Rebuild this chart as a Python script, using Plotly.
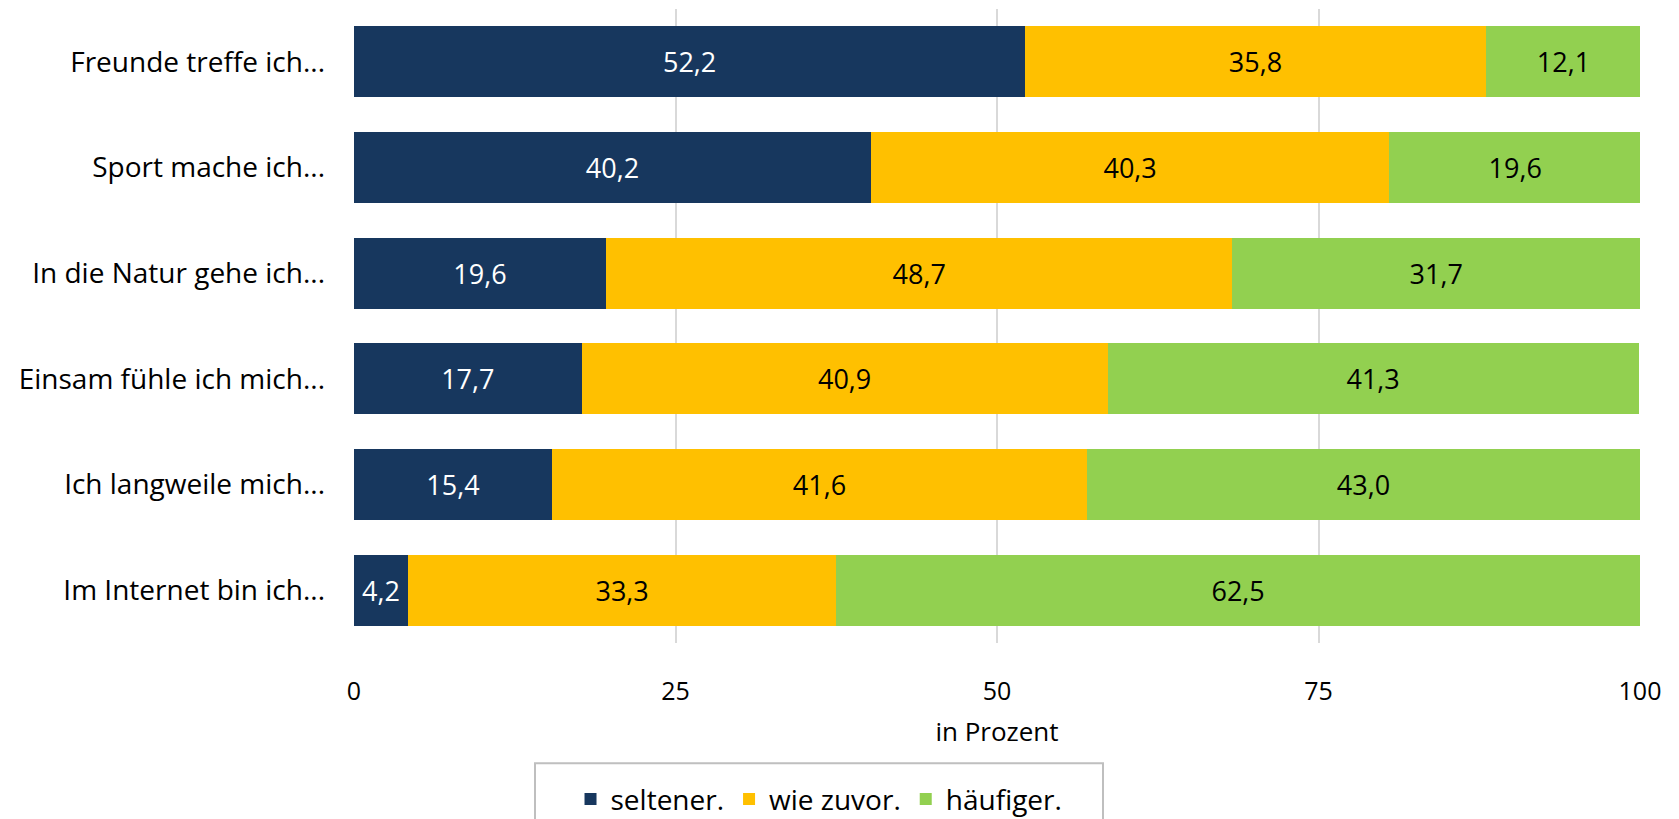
import plotly.graph_objects as go

categories = ["Freunde treffe ich...", "Sport mache ich...", "In die Natur gehe ich...",
              "Einsam fühle ich mich...", "Ich langweile mich...", "Im Internet bin ich..."]
seltener = [52.2, 40.2, 19.6, 17.7, 15.4, 4.2]
wie_zuvor = [35.8, 40.3, 48.7, 40.9, 41.6, 33.3]
haeufiger = [12.1, 19.6, 31.7, 41.3, 43.0, 62.5]
tick_vals = [0, 25, 50, 75, 100]

cats = categories[::-1]

def fmt(v):
    return f"{v:.1f}".replace(".", ",")

series = [
    ("seltener.", seltener, "#17375E", "white"),
    ("wie zuvor.", wie_zuvor, "#FFC000", "black"),
    ("häufiger.", haeufiger, "#92D050", "black"),
]

FONT = "Open Sans"
fig = go.Figure()
for name, vals, color, tcol in series:
    v = vals[::-1]
    fig.add_trace(go.Bar(
        y=cats, x=v, name=name, orientation="h",
        marker=dict(color=color, line=dict(width=0)),
        text=[fmt(x) for x in v], textposition="inside", insidetextanchor="middle",
        textangle=0, constraintext="none",
        textfont=dict(color=tcol, size=27, family=FONT),
        hoverinfo="skip",
    ))

fig.update_layout(
    barmode="stack", bargap=0.33,
    width=1679, height=819,
    paper_bgcolor="white", plot_bgcolor="white",
    margin=dict(l=346, r=47, t=1, b=184),
    font=dict(family=FONT, color="black", size=26),
    xaxis=dict(range=[0, 100], tickvals=tick_vals, showgrid=True, gridcolor="#D9D9D9",
               gridwidth=2, zeroline=False, showline=False, automargin=False,
               ticklabelstandoff=31, tickfont=dict(size=25, family=FONT),
               title=dict(text="in Prozent", font=dict(size=26, family=FONT), standoff=16)),
    yaxis=dict(showgrid=False, zeroline=False, showline=False, ticklabelstandoff=28,
               automargin=False, tickfont=dict(size=28, family=FONT)),
    legend=dict(orientation="h", x=0.3616, xanchor="center", y=-0.2464, yanchor="middle",
                borderwidth=0, font=dict(size=28, family=FONT),
                traceorder="normal", bgcolor="rgba(0,0,0,0)"),
    showlegend=True,
    shapes=[dict(type="rect", xref="paper", yref="paper",
                 x0=(535 - 354) / 1286, x1=(1103 - 354) / 1286,
                 y0=-0.1896, y1=-0.35,
                 line=dict(color="#BFBFBF", width=2), fillcolor="rgba(0,0,0,0)",
                 layer="below")],
)

fig.write_html("out.html")
